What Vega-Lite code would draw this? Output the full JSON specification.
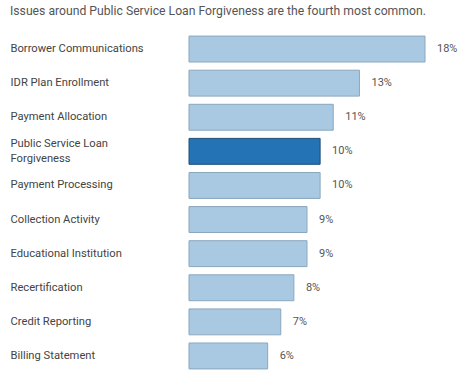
{
  "$schema": "https://vega.github.io/schema/vega-lite/v6.json",
  "autosize": "none",
  "width": 236,
  "height": 341,
  "padding": {"left": 189, "top": 32, "right": 50, "bottom": 15},
  "background": "white",
  "title": {
    "text": "Issues around Public Service Loan Forgiveness are the fourth most common.",
    "anchor": "start",
    "frame": "group",
    "offset": 0,
    "dx": -179,
    "dy": -15,
    "font": "Roboto",
    "fontSize": 12.2,
    "fontWeight": "normal",
    "color": "#555555"
  },
  "data": {
    "values": [
      {"issue": "Borrower Communications", "pct": 0.18, "highlight": "no"},
      {"issue": "IDR Plan Enrollment", "pct": 0.13, "highlight": "no"},
      {"issue": "Payment Allocation", "pct": 0.11, "highlight": "no"},
      {"issue": "Public Service Loan Forgiveness", "pct": 0.10, "highlight": "yes"},
      {"issue": "Payment Processing", "pct": 0.10, "highlight": "no"},
      {"issue": "Collection Activity", "pct": 0.09, "highlight": "no"},
      {"issue": "Educational Institution", "pct": 0.09, "highlight": "no"},
      {"issue": "Recertification", "pct": 0.08, "highlight": "no"},
      {"issue": "Credit Reporting", "pct": 0.07, "highlight": "no"},
      {"issue": "Billing Statement", "pct": 0.06, "highlight": "no"}
    ]
  },
  "encoding": {
    "y": {
      "field": "issue",
      "type": "nominal",
      "sort": null,
      "scale": {"paddingInner": 0.24, "paddingOuter": 0.12},
      "axis": {
        "title": null,
        "domain": false,
        "ticks": false,
        "labelAlign": "left",
        "labelPadding": 179,
        "labelLimit": 175,
        "labelFont": "Roboto",
        "labelFontSize": 11.2,
        "labelColor": "#444444",
        "labelLineHeight": 15,
        "labelOffset": {"condition": {"test": "datum.label == 'Public Service Loan Forgiveness'", "value": -7}, "value": 0},
        "labelExpr": "datum.label == 'Public Service Loan Forgiveness' ? ['Public Service Loan', 'Forgiveness'] : datum.label"
      }
    },
    "x": {
      "field": "pct",
      "type": "quantitative",
      "scale": {"domain": [0, 0.18], "nice": false, "zero": true},
      "axis": null
    }
  },
  "layer": [
    {
      "mark": {"type": "bar", "strokeWidth": 1},
      "encoding": {
        "fill": {
          "field": "highlight",
          "type": "nominal",
          "scale": {"domain": ["no", "yes"], "range": ["#a9c9e2", "#2473b4"]},
          "legend": null
        },
        "stroke": {
          "field": "highlight",
          "type": "nominal",
          "scale": {"domain": ["no", "yes"], "range": ["#8aa7bd", "#1d4f78"]},
          "legend": null
        }
      }
    },
    {
      "mark": {"type": "text", "align": "left", "dx": 12, "font": "Roboto", "fontSize": 11, "color": "#555555"},
      "encoding": {
        "text": {"field": "pct", "type": "quantitative", "format": ".0%"}
      }
    }
  ],
  "config": {"view": {"stroke": null}}
}
